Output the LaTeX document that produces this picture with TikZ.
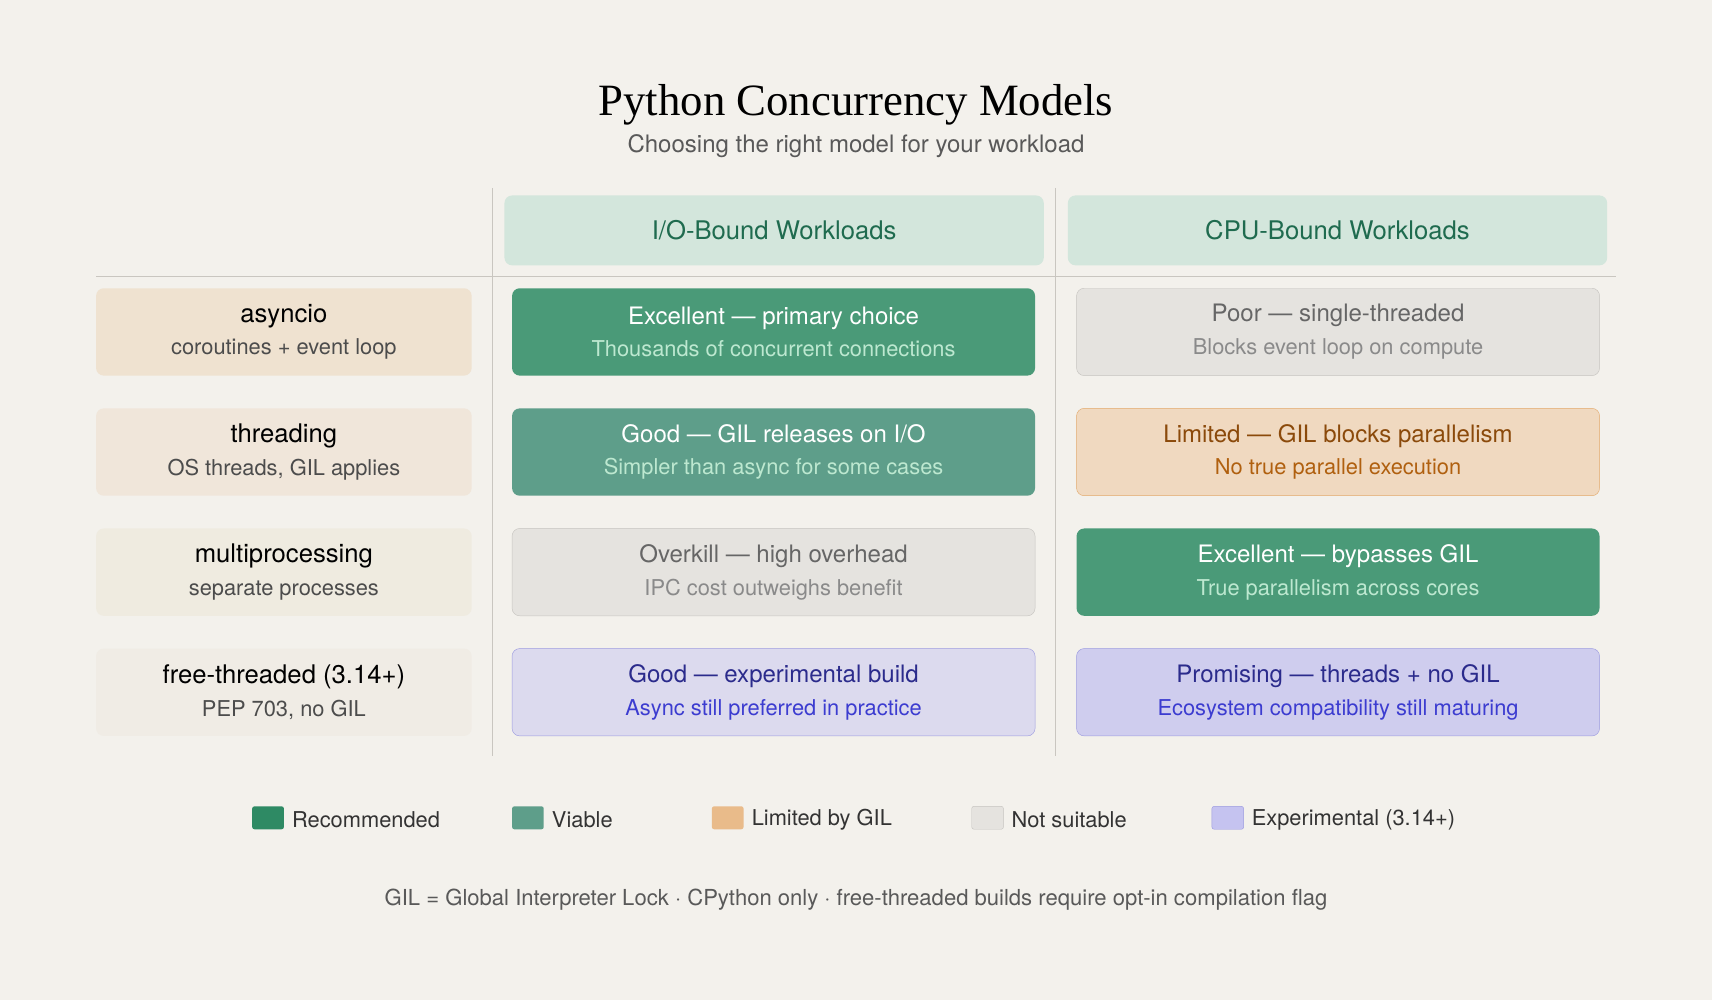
\documentclass[tikz,border=0pt]{standalone}
\usepackage{fontspec}
\setmainfont{TeX Gyre Heros}
\newfontfamily\titlefont{Liberation Serif}
\definecolor{bg}{HTML}{F3F1EC}
\definecolor{hdr}{HTML}{D3E6DC}
\definecolor{hdrtx}{HTML}{1F6B4F}
\definecolor{grn}{HTML}{4A9A78}
\definecolor{grnsub}{HTML}{BDE8D0}
\definecolor{via}{HTML}{5E9E8A}
\definecolor{gry}{HTML}{E5E3DF}
\definecolor{grybd}{HTML}{C6C4C0}
\definecolor{grytx}{HTML}{666666}
\definecolor{grysub}{HTML}{8A8A8A}
\definecolor{org}{HTML}{F0D9C0}
\definecolor{orgbd}{HTML}{E3A96B}
\definecolor{orgtx}{HTML}{8B4A0B}
\definecolor{orgsub}{HTML}{B0600F}
\definecolor{pur}{HTML}{DCDAEE}
\definecolor{pur2}{HTML}{CFCDEE}
\definecolor{purbd}{HTML}{9C9BE0}
\definecolor{purtx}{HTML}{2B2B8C}
\definecolor{pursub}{HTML}{3C3CD0}
\definecolor{lab1}{HTML}{EFE2D0}
\definecolor{lab2}{HTML}{F0E6DA}
\definecolor{lab3}{HTML}{EFEBE0}
\definecolor{lab4}{HTML}{F0ECE5}
\definecolor{rule}{HTML}{C9C6C0}
\definecolor{leggrn}{HTML}{2E8A64}
\definecolor{legorg}{HTML}{E9BB8A}
\definecolor{legpur}{HTML}{C5C3F0}
\newcommand{\subsz}{\fontsize{20}{30}\selectfont}
\begin{document}
\begin{tikzpicture}[x=1pt,y=-1pt,
  cell/.style={rounded corners=7pt,minimum height=80pt,align=center,inner sep=0pt},
  c1/.style={cell,minimum width=479pt,font=\fontsize{22}{30}\selectfont},
  lab/.style={cell,minimum width=344pt,font=\fontsize{23.5}{30}\selectfont},
  hd/.style={rounded corners=7pt,minimum width=494pt,minimum height=64pt,fill=hdr,text=hdrtx,font=\fontsize{23.5}{28}\selectfont},
  sq/.style={rounded corners=2pt,minimum width=29pt,minimum height=21pt,inner sep=0pt},
  lt/.style={anchor=west,font=\fontsize{20}{24}\selectfont,text=black!80}]
\fill[bg] (0,0) rectangle (1568,916);
\useasboundingbox (0,0) rectangle (1568,916);
\node (title) at (784,96) {\titlefont\fontsize{41}{46}\selectfont Python Concurrency Models};
\node[text=black!65] (subt) at (784,134) {\fontsize{22}{26}\selectfont Choosing the right model for your workload};
\coordinate (v1a) at (451,172); \coordinate (v1b) at (451,692);
\coordinate (v2a) at (967,172); \coordinate (v2b) at (967,692);
\coordinate (ha) at (88,253); \coordinate (hb) at (1480,253);
\draw[rule,line width=1.2pt] (v1a)--(v1b) (v2a)--(v2b) (ha)--(hb);
\node[hd] (h1) at (709,211) {I/O-Bound Workloads};
\node[hd] (h2) at (1225,211) {CPU-Bound Workloads};
% labels
\node[lab,fill=lab1] (l1) at (260,304) {asyncio\\{\color{black!70}\subsz coroutines + event loop}};
\node[lab,fill=lab2] (l2) at (260,414) {threading\\{\color{black!70}\subsz OS threads, GIL applies}};
\node[lab,fill=lab3] (l3) at (260,524) {multiprocessing\\{\color{black!70}\subsz separate processes}};
\node[lab,fill=lab4] (l4) at (260,634) {free-threaded (3.14+)\\{\color{black!70}\subsz PEP 703, no GIL}};
% col1
\node[c1,fill=grn,text=white] (a1) at (708.5,304) {Excellent — primary choice\\{\color{grnsub}\subsz Thousands of concurrent connections}};
\node[c1,fill=via,text=white] (a2) at (708.5,414) {Good — GIL releases on I/O\\{\color{grnsub}\subsz Simpler than async for some cases}};
\node[c1,fill=gry,draw=grybd,text=grytx] (a3) at (708.5,524) {Overkill — high overhead\\{\color{grysub}\subsz IPC cost outweighs benefit}};
\node[c1,fill=pur,draw=purbd,text=purtx] (a4) at (708.5,634) {Good — experimental build\\{\color{pursub}\subsz Async still preferred in practice}};
% col2
\node[c1,fill=gry,draw=grybd,text=grytx] (b1) at (1225.5,304) {Poor — single-threaded\\{\color{grysub}\subsz Blocks event loop on compute}};
\node[c1,fill=org,draw=orgbd,text=orgtx] (b2) at (1225.5,414) {Limited — GIL blocks parallelism\\{\color{orgsub}\subsz No true parallel execution}};
\node[c1,fill=grn,text=white] (b3) at (1225.5,524) {Excellent — bypasses GIL\\{\color{grnsub}\subsz True parallelism across cores}};
\node[c1,fill=pur2,draw=purbd,text=purtx] (b4) at (1225.5,634) {Promising — threads + no GIL\\{\color{pursub}\subsz Ecosystem compatibility still maturing}};
% legend
\node[sq,fill=leggrn] (s1) at (245.5,749) {}; \node[lt] (t1) at (264,751) {Recommended};
\node[sq,fill=via] (s2) at (483.5,749) {}; \node[lt] (t2) at (502,751) {Viable};
\node[sq,fill=legorg] (s3) at (666.5,749) {}; \node[lt] (t3) at (685,751) {Limited by GIL};
\node[sq,fill=gry,draw=grybd] (s4) at (904.5,749) {}; \node[lt] (t4) at (923,751) {Not suitable};
\node[sq,fill=legpur,draw=purbd] (s5) at (1124.5,749) {}; \node[lt] (t5) at (1143,751) {Experimental (3.14+)};
\node[text=black!65] (foot) at (784,824) {\fontsize{20.2}{24}\selectfont GIL = Global Interpreter Lock · CPython only · free-threaded builds require opt-in compilation flag};
\end{tikzpicture}
\end{document}
